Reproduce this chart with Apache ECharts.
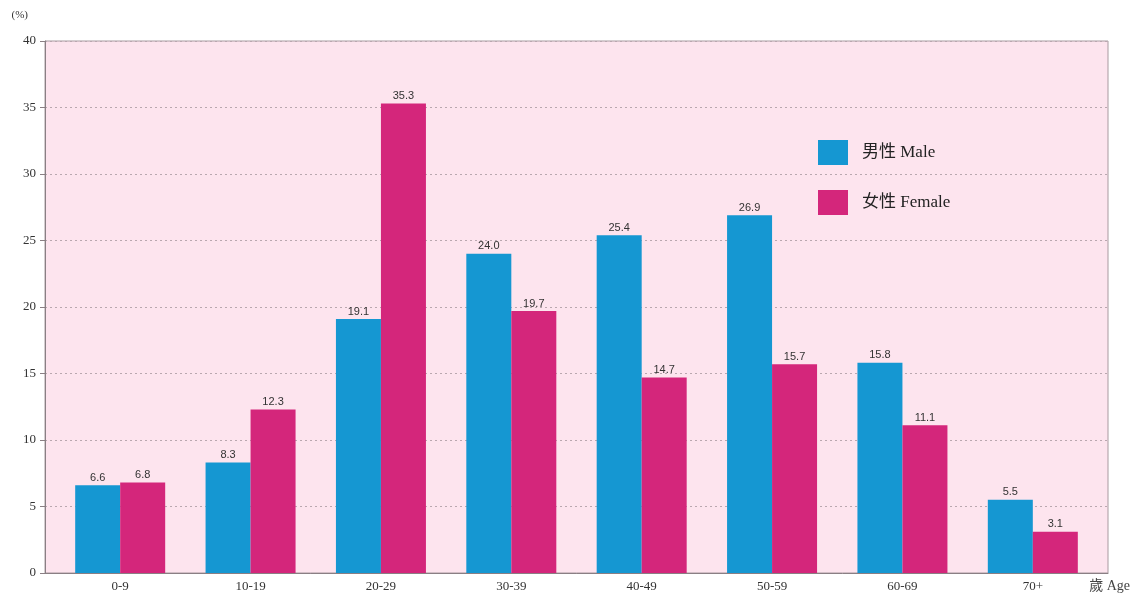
<!DOCTYPE html>
<html><head><meta charset="utf-8">
<script src="https://cdn.jsdelivr.net/npm/echarts@6/dist/echarts.min.js"></script>
<style>html,body{margin:0;padding:0;background:#fff}#c{width:1131px;height:597px}</style>
</head><body><div id="c"></div>
<script>
const categories = ['0-9','10-19','20-29','30-39','40-49','50-59','60-69','70+'];
const maleValues = [6.6, 8.3, 19.1, 24.0, 25.4, 26.9, 15.8, 5.5];
const femaleValues = [6.8, 12.3, 35.3, 19.7, 14.7, 15.7, 11.1, 3.1];
const seriesNames = ['男性 Male', '女性 Female'];
const yTicks = [0, 5, 10, 15, 20, 25, 30, 35, 40];

const serif = '"Liberation Serif", "DejaVu Serif", serif';
const chart = echarts.init(document.getElementById('c'));
const labelCfg = {show:true, position:'top', distance:2, fontFamily:'"Liberation Sans Narrow","Liberation Sans", Arial, sans-serif', fontSize:11, color:'#333', formatter: p => p.value.toFixed(1)};
chart.setOption({
  animation:false,
  grid:[
    {left:45, right:23, top:41, bottom:24, outerBoundsMode:'none', containLabel:false, show:true, backgroundColor:'#fde4ee', borderColor:'#a89aa0', borderWidth:1},
    {left:55, right:33, top:41, bottom:24, outerBoundsMode:'none', containLabel:false}
  ],
  legend:{
    data:seriesNames, orient:'vertical', left:813, top:135, itemWidth:30, itemHeight:25, itemGap:25, icon:'rect',
    textStyle:{fontFamily:'"Liberation Serif", "Noto Sans CJK TC", serif', fontSize:17, color:'#222', padding:[0,0,0,9]}
  },
  xAxis:[
    {gridIndex:0, type:'value', min:0, max:1, show:true, axisLine:{show:true, lineStyle:{color:'#8a7f84'}}, axisTick:{show:false}, axisLabel:{show:false}, splitLine:{show:false},
     name:'歲 Age', nameLocation:'end', nameGap:22, nameTextStyle:{fontFamily:'"Liberation Serif", "Noto Sans CJK TC", serif', fontSize:14, color:'#444', align:'right', verticalAlign:'top', padding:[6,0,0,0]}},
    {gridIndex:1, type:'category', data:categories, axisLine:{show:false}, axisTick:{show:false},
     axisLabel:{fontFamily:serif, fontSize:13, color:'#333', margin:7}}
  ],
  yAxis:[
    {gridIndex:0, type:'value', min:0, max:40, interval:5, axisLine:{show:true, lineStyle:{color:'#8a7f84'}},
     axisTick:{show:true, length:5, lineStyle:{color:'#8a7f84'}},
     axisLabel:{fontFamily:serif, fontSize:13, color:'#333', margin:9},
     splitLine:{show:true, lineStyle:{type:[2,3], color:'#b9a7af', width:1}},
     name:'(%)', nameLocation:'end', nameGap:20, nameTextStyle:{fontFamily:serif, fontSize:11, color:'#333', align:'right', padding:[0,17,0,0]}},
    {gridIndex:1, type:'value', min:0, max:40, interval:5, show:false}
  ],
  series:[
    {name:seriesNames[0], type:'bar', xAxisIndex:1, yAxisIndex:1, data:maleValues, barWidth:45, barGap:'0%', itemStyle:{color:'#1597d2'}, label:labelCfg},
    {name:seriesNames[1], type:'bar', xAxisIndex:1, yAxisIndex:1, data:femaleValues, barWidth:45, barGap:'0%', itemStyle:{color:'#d4267b'}, label:labelCfg}
  ]
});
</script></body></html>
